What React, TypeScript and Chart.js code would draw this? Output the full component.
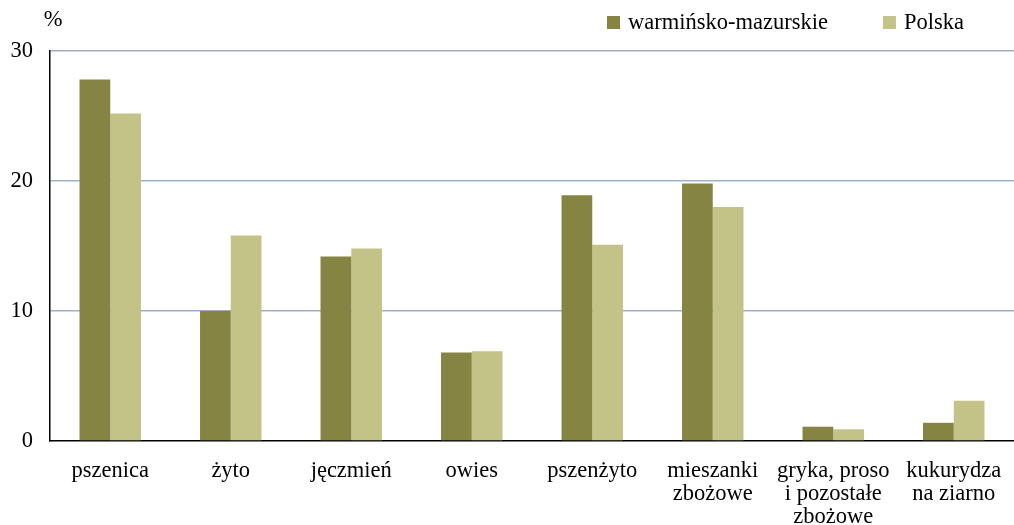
import React, { useEffect, useRef } from "react";
import { Chart, registerables } from "chart.js";

Chart.register(...registerables);

const categories: (string | string[])[] = [
  "pszenica",
  "żyto",
  "jęczmień",
  "owies",
  "pszenżyto",
  ["mieszanki", "zbożowe"],
  ["gryka, proso", "i pozostałe", "zbożowe"],
  ["kukurydza", "na ziarno"],
];
const warminskoMazurskie = [27.8, 10.0, 14.2, 6.8, 18.9, 19.8, 1.1, 1.4];
const polska = [25.2, 15.8, 14.8, 6.9, 15.1, 18.0, 0.9, 3.1];
const seriesNames = ["warmińsko-mazurskie", "Polska"];
const seriesColors = ["#868442", "#C3C387"];
const yMin = 0;
const yMax = 30;
const yStep = 10;
const unitLabel = "%";

const FONT = "'Liberation Serif', 'Times New Roman', serif";
const FS = 22.5;

const overlayPlugin = {
  id: "overlay",
  afterDraw(chart: any) {
    const { ctx, chartArea } = chart;
    ctx.save();
    ctx.font = `${FS}px ${FONT}`;
    ctx.fillStyle = "#000";
    ctx.textBaseline = "middle";
    ctx.textAlign = "center";
    ctx.fillText(unitLabel, chartArea.left + 3, 20);
    ctx.textAlign = "left";
    let x = chartArea.right - 407;
    const cy = 23;
    seriesNames.forEach((name, i) => {
      ctx.fillStyle = seriesColors[i];
      ctx.fillRect(x, cy - 7, 13, 13);
      x += 13 + 8;
      ctx.fillStyle = "#000";
      ctx.fillText(name, x, cy);
      x += ctx.measureText(name).width + 55;
    });
    ctx.restore();
  },
};

export default function App() {
  const ref = useRef<HTMLCanvasElement | null>(null);
  useEffect(() => {
    document.body.style.margin = "0";
    if (!ref.current) return;
    const chart = new Chart(ref.current, {
      type: "bar",
      data: {
        labels: categories as any,
        datasets: [
          {
            label: seriesNames[0],
            data: warminskoMazurskie,
            backgroundColor: seriesColors[0],
            borderWidth: 0,
            categoryPercentage: 0.51,
            barPercentage: 1,
          },
          {
            label: seriesNames[1],
            data: polska,
            backgroundColor: seriesColors[1],
            borderWidth: 0,
            categoryPercentage: 0.51,
            barPercentage: 1,
          },
        ],
      },
      options: {
        animation: false,
        responsive: true,
        maintainAspectRatio: false,
        layout: { padding: { top: 51, right: 0, bottom: 0, left: 0 } },
        plugins: {
          legend: { display: false },
          tooltip: { enabled: false },
        },
        scales: {
          x: {
            grid: { display: false, drawTicks: false },
            border: { display: true, color: "#000", width: 1.5 },
            ticks: {
              color: "#000",
              padding: 18,
              maxRotation: 0,
              autoSkip: false,
              font: { family: FONT, size: FS, lineHeight: 1.04 },
            },
            afterFit: (scale: any) => {
              scale.height = 84;
              scale.paddingLeft = 0;
              scale.paddingRight = 0;
            },
          },
          y: {
            min: yMin,
            max: yMax,
            grid: {
              drawTicks: false,
              lineWidth: 1.5,
              color: (c: any) => (c.tick && c.tick.value === 0 ? "rgba(0,0,0,0)" : "#9FB0C6"),
            },
            border: { display: true, color: "#000", width: 1.5 },
            ticks: {
              stepSize: yStep,
              color: "#000",
              padding: 17,
              font: { family: FONT, size: FS },
            },
            afterFit: (scale: any) => {
              scale.width = 50;
            },
          },
        },
      },
      plugins: [overlayPlugin],
    });
    return () => chart.destroy();
  }, []);
  return (
    <div style={{ position: "relative", width: 1014, height: 525 }}>
      <canvas ref={ref} />
    </div>
  );
}
